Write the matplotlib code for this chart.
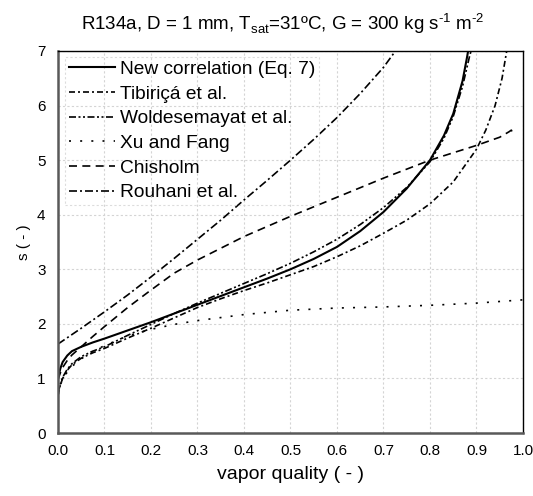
import numpy as np
import matplotlib
matplotlib.use("Agg")
import matplotlib.pyplot as plt

plt.rcParams['font.family'] = ['Liberation Sans', 'DejaVu Sans']
plt.rcParams['mathtext.fontset'] = 'custom'
plt.rcParams['mathtext.rm'] = 'Liberation Sans'

# New correlation (Eq. 7)
q_new = [0, 0.005, 0.01, 0.02, 0.03, 0.05, 0.075, 0.1, 0.15, 0.2, 0.25, 0.3, 0.35, 0.4,
         0.45, 0.5, 0.55, 0.6, 0.65, 0.7, 0.75, 0.8, 0.83, 0.85, 0.87, 0.88, 0.886]
s_new = [1.0, 1.18, 1.3, 1.42, 1.5, 1.58, 1.66, 1.73, 1.88, 2.03, 2.19, 2.35, 2.51, 2.67,
         2.83, 3.0, 3.19, 3.41, 3.7, 4.05, 4.48, 5.0, 5.45, 5.85, 6.45, 6.9, 7.2]

# Tibiriçá et al.
q_tib = [0, 0.005, 0.01, 0.02, 0.03, 0.05, 0.075, 0.1, 0.15, 0.2, 0.25, 0.3, 0.35, 0.4, 0.45,
         0.5, 0.55, 0.6, 0.65, 0.7, 0.75, 0.8, 0.85, 0.9, 0.92, 0.94, 0.955, 0.965, 0.972]
s_tib = [0.68, 0.88, 1.0, 1.15, 1.25, 1.37, 1.47, 1.55, 1.74, 1.92, 2.11, 2.3, 2.46, 2.61, 2.75,
         2.9, 3.05, 3.23, 3.43, 3.66, 3.9, 4.2, 4.6, 5.2, 5.55, 6.0, 6.5, 7.0, 7.4]

# Woldesemayat et al.
q_wol = [0, 0.005, 0.01, 0.02, 0.03, 0.05, 0.075, 0.1, 0.15, 0.2, 0.25, 0.3, 0.35, 0.4,
         0.45, 0.5, 0.55, 0.6, 0.65, 0.7, 0.75, 0.8, 0.83, 0.85, 0.87, 0.885, 0.895]
s_wol = [0.72, 0.9, 1.02, 1.17, 1.27, 1.4, 1.5, 1.58, 1.79, 1.99, 2.19, 2.38, 2.56, 2.74,
         2.92, 3.11, 3.32, 3.55, 3.82, 4.13, 4.5, 4.97, 5.4, 5.8, 6.35, 6.9, 7.2]

# Xu and Fang
q_xu = [0, 0.005, 0.01, 0.02, 0.03, 0.05, 0.075, 0.1, 0.15, 0.2, 0.25, 0.3, 0.4, 0.5,
        0.6, 0.7, 0.8, 0.9, 1.0]
s_xu = [0.7, 0.88, 0.98, 1.12, 1.22, 1.36, 1.5, 1.6, 1.78, 1.9, 1.99, 2.06, 2.17, 2.25,
        2.29, 2.31, 2.34, 2.38, 2.44]

# Chisholm
q_chi = [0, 0.005, 0.01, 0.02, 0.03, 0.05, 0.075, 0.1, 0.15, 0.2, 0.25, 0.3, 0.4, 0.5,
         0.6, 0.7, 0.8, 0.9, 0.95, 0.97, 0.975, 0.98]
s_chi = [0.98, 1.1, 1.2, 1.33, 1.43, 1.58, 1.77, 1.95, 2.3, 2.62, 2.93, 3.17, 3.6, 3.97,
         4.32, 4.67, 5.0, 5.27, 5.42, 5.52, 5.55, 5.45]

# Rouhani et al.
q_rou = [0, 0.05, 0.1, 0.15, 0.2, 0.25, 0.3, 0.35, 0.4, 0.45, 0.5, 0.55, 0.6, 0.65, 0.7, 0.73]
s_rou = [1.63, 1.92, 2.22, 2.53, 2.86, 3.2, 3.55, 3.9, 4.27, 4.63, 5.0, 5.38, 5.78, 6.22, 6.7, 7.05]

x_ticks = np.arange(0, 1.01, 0.1)
y_ticks = list(range(0, 8))

fig = plt.figure(figsize=(5.33, 4.96), dpi=100)
ax = fig.add_axes([0.1088, 0.127, 0.8724, 0.7702])

ax.plot(q_new, s_new, color="black", lw=1.5, label="New correlation (Eq. 7)")
ax.plot(q_tib, s_tib, color="black", lw=1.2, dashes=(3.6, 1.8, 1.2, 1.8), label="Tibiriçá et al.")
ax.plot(q_wol, s_wol, color="black", lw=1.2, dashes=(4.2, 1.5, 1.2, 1.5, 1.2, 1.5), label="Woldesemayat et al.")
ax.plot(q_xu, s_xu, color="black", lw=1.2, dashes=(1.2, 5.5), label="Xu and Fang")
ax.plot(q_chi, s_chi, color="black", lw=1.2, dashes=(4.8, 3.2), label="Chisholm")
ax.plot(q_rou, s_rou, color="black", lw=1.2, dashes=(4.8, 1.8, 1.2, 1.8), label="Rouhani et al.")

ax.set_xlim(0, 1)
ax.set_ylim(0, 7)
ax.set_xticks(x_ticks)
ax.set_xticklabels([f"{v:.1f}" for v in x_ticks])
ax.set_yticks(y_ticks)
ax.tick_params(length=0, labelsize=11)
ax.tick_params(axis="x", pad=8)
ax.tick_params(axis="y", pad=9)
ax.grid(True, color="#d4d4d4", linestyle=(0, (2, 2)), lw=0.8)

for side in ["left", "bottom"]:
    ax.spines[side].set_color("#595959")
    ax.spines[side].set_linewidth(1.8)
for side in ["top", "right"]:
    ax.spines[side].set_color("black")
    ax.spines[side].set_linewidth(1.0)

ax.set_xlabel("vapor quality ( - )", fontsize=14, labelpad=6)
ax.set_ylabel("s ( - )", fontsize=11, labelpad=4)
fig.text(283 / 533, 1 - 24 / 496,
         r"R134a, D = 1 mm, T$_{\mathrm{sat}}$=31ºC, G = 300 kg s$^{\text{-1}}$ m$^{\text{-2}}$",
         fontsize=13.5, ha="center", va="center")

leg = ax.legend(loc="upper left", bbox_to_anchor=(0.015, 0.985), borderaxespad=0,
                fontsize=13.8, handlelength=2.4, handletextpad=0.27, labelspacing=0.38,
                borderpad=0.2, fancybox=False, facecolor="none")
leg.get_frame().set_edgecolor("#d4d4d4")
leg.get_frame().set_linestyle((0, (2, 2)))
leg.get_frame().set_linewidth(0.8)

fig.savefig("out.png", dpi=100)
